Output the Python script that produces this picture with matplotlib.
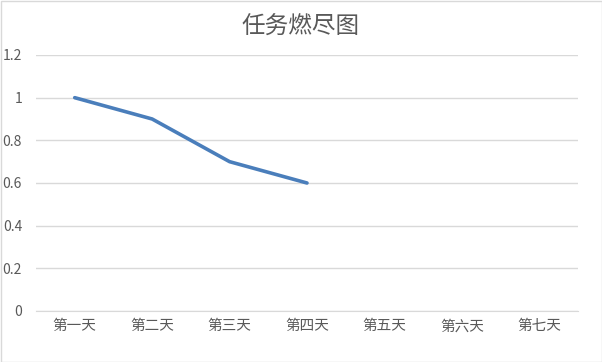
import matplotlib
matplotlib.use("Agg")
import matplotlib.pyplot as plt
from matplotlib.patches import Rectangle

plt.rcParams['font.family'] = ['Noto Sans CJK SC', 'DejaVu Sans']

categories = ["第一天", "第二天", "第三天", "第四天", "第五天", "第六天", "第七天"]
values = [1.0, 0.9, 0.7, 0.6]
yticks = [0, 0.2, 0.4, 0.6, 0.8, 1, 1.2]
ytick_labels = ["0", "0.2", "0.4", "0.6", "0.8", "1", "1.2"]

fig = plt.figure(figsize=(6.02, 3.62), dpi=100)
ax = fig.add_axes([36/602, 1-311/362, (578-36)/602, (311-55)/362])

x = list(range(len(categories)))
ax.plot(x[:len(values)], values, color="#4a7ebb", linewidth=2.6, solid_capstyle="round")

ax.set_xlim(-0.5, len(categories) - 0.5)
ax.set_ylim(0, 1.2)
ax.set_yticks(yticks)
ax.set_yticklabels(ytick_labels)
ax.set_xticks(x)
ax.set_xticklabels(categories)
ax.grid(axis="y", color="#d9d9d9", linewidth=1)
ax.set_axisbelow(True)
for s in ["top", "right", "left"]:
    ax.spines[s].set_visible(False)
ax.spines["bottom"].set_color("#d9d9d9")
ax.tick_params(axis="x", length=0, labelsize=10.5, colors="#595959", pad=6)
ax.tick_params(axis="y", length=0, labelsize=10, colors="#595959", pad=10)

fig.text(0.5, 1-27/362, "任务燃尽图", ha="center", va="center", fontsize=17, color="#595959")
fig.patches.append(Rectangle((0.5/602, 0.5/362), 1-1/602, 1-1/362, transform=fig.transFigure,
                             fill=False, edgecolor="#d9d9d9", linewidth=1))

fig.savefig("out.png", dpi=100)
